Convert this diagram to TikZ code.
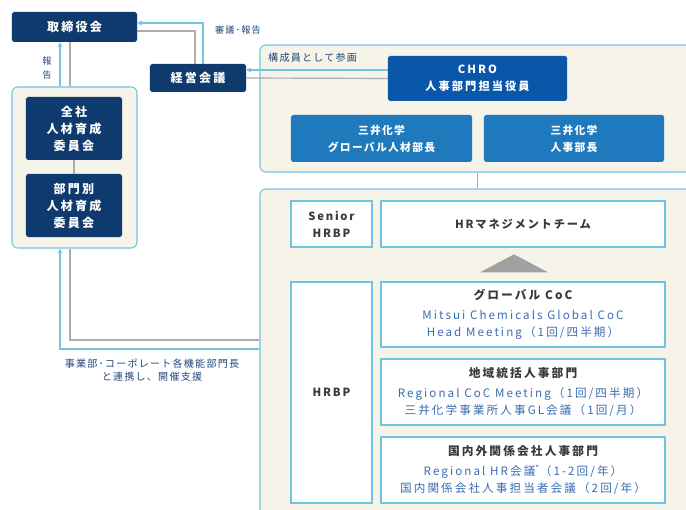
\documentclass[tikz,border=0pt]{standalone}
\usepackage{fontspec}
\setmainfont{Noto Sans CJK JP}[LetterSpace=12]
\usetikzlibrary{calc,positioning}
\definecolor{navy}{RGB}{14,58,109}
\definecolor{chroblue}{RGB}{10,86,168}
\definecolor{midblue}{RGB}{30,122,188}
\definecolor{lineblue}{RGB}{112,196,226}
\definecolor{cream}{RGB}{246,243,232}
\definecolor{linegray}{RGB}{172,172,172}
\definecolor{trigray}{RGB}{160,160,160}
\definecolor{textblue}{RGB}{58,108,178}
\definecolor{darktext}{RGB}{58,58,58}
\definecolor{labeltext}{RGB}{32,72,124}
\tikzstyle{panel} = [rectangle, rounded corners=5pt, draw=lineblue, line width=0.9pt,
fill=cream, inner sep=0pt]
\tikzstyle{navybox} = [rectangle, rounded corners=1.5pt, fill=navy, text=white,
align=center, inner sep=0pt, font=\bfseries\fontsize{10.3}{14.5}\selectfont\addfontfeatures{LetterSpace=18}]
\tikzstyle{bluebox} = [navybox, fill=midblue, font=\bfseries\fontsize{9.2}{14.5}\selectfont]
\tikzstyle{whitebox} = [rectangle, draw=lineblue, line width=1.1pt, fill=white,
align=center, inner sep=0pt, text=darktext,
font=\bfseries\fontsize{9.6}{14.5}\selectfont\addfontfeatures{LetterSpace=16}]
\tikzstyle{meetbox} = [whitebox, text=textblue, minimum width=8.52cm,
font=\fontsize{9.9}{14.5}\selectfont\addfontfeatures{LetterSpace=18}]
\tikzstyle{smalltext} = [text=labeltext, align=center, inner sep=0pt,
font=\fontsize{8.6}{11.5}\selectfont]
\tikzstyle{gline} = [draw=linegray, line width=1pt]
\tikzstyle{barrow} = [draw=lineblue, line width=0.9pt, ->]
\tikzset{>=stealth}

\begin{document}
\begin{tikzpicture}[x=0.03cm, y=-0.03cm]
            \useasboundingbox (0,0) rectangle (686,510);
            \clip (0,0) rectangle (686,510);
            \node[panel, minimum width=3.75cm, minimum height=4.83cm] (leftbox) at (74.5,167.5) {};
            \node[panel, minimum width=13.2cm, minimum height=3.81cm] (topbox) at (480,108.5) {};
            \node[panel, minimum width=13.2cm, minimum height=10.23cm] (botbox) at (480,359.5) {};
            \node[navybox, minimum width=3.75cm, minimum height=0.9cm] (board) at (74.5,27) {取締役会};
            \node[navybox, minimum width=2.88cm, minimum height=0.84cm] (mgmt) at (198,78) {経営会議};
            \node[navybox, minimum width=2.88cm, minimum height=1.89cm] (whole) at (74,128.5) {全社\\人材育成\\委員会};
            \node[navybox, minimum width=2.88cm, minimum height=1.89cm] (dept) at (74,205.5) {部門別\\人材育成\\委員会};
            \node[smalltext, font=\fontsize{7.8}{11}\selectfont] (review) at (238,30) {審議･報告};
            \node[smalltext, font=\fontsize{7.8}{12}\selectfont] (report) at (47,68) {報\\告};
            \node[smalltext, anchor=west] (member) at (268,58) {構成員として参画};
            \node[smalltext] (support) at (152,370) {事業部･コーポレート各機能部門長\\と連携し、開催支援};
            \draw[gline] ($(board.east)+(0,4)$) -| ($(mgmt.north)+(-3,0)$);
            \draw[barrow] ($(mgmt.north)+(5,0)$) |- ($(board.east)+(0,-4)$);
            \draw[gline] ($(board.south)+(-4.5,0)$) -- ($(leftbox.north)+(-4.5,0)$);
            \draw[barrow] ($(leftbox.north)+(-14.5,0)$) -- ($(board.south)+(-14.5,0)$);
            \draw[gline] (whole) -- (dept);
            \draw[gline] ($(leftbox.south)+(-4.5,0)$) |- ($(botbox.west)+(0,-19.5)$);
            \draw[barrow] ($(botbox.west)+(0,-10.5)$) -| ($(leftbox.south)+(-14.5,0)$);
            \node[bluebox, fill=chroblue, minimum width=5.37cm, minimum height=1.35cm, font=\bfseries\fontsize{9.6}{14.5}\selectfont\addfontfeatures{LetterSpace=18}] (chro) at (477.5,78.5) {CHRO\\人事部門担当役員};
            \draw[gline] (mgmt.east) -- (chro.west);
            \draw[barrow] ($(chro.west)+(0,-8.5)$) -- ($(mgmt.east)+(0,-8)$);
            \node[bluebox, minimum width=5.43cm, minimum height=1.41cm] (globalhr) at (381.5,138.5) {三井化学\\グローバル人材部長};
            \node[bluebox, minimum width=5.4cm, minimum height=1.41cm] (hrhead) at (574,138.5) {三井化学\\人事部長};
            \draw[gline] (chro.south |- topbox.south) -- (chro.south |- botbox.north);
            \node[whitebox, minimum width=2.43cm, minimum height=1.38cm] (senior) at (331.5,224) {Senior\\HRBP};
            \node[whitebox, minimum width=8.52cm, minimum height=1.38cm] (hrmt) at (523,224) {HRマネジメントチーム};
            \node[whitebox, minimum width=2.43cm, minimum height=6.63cm] (hrbp) at (331.5,392.5) {HRBP};
            \node[meetbox, minimum height=1.95cm] (coc) at (523,314.5) {{\color{darktext}\bfseries\fontsize{10}{14.5}\selectfont グローバル CoC}\\[3pt]Mitsui Chemicals Global CoC\\Head Meeting（1回/四半期）};
            \node[meetbox, minimum height=1.98cm] (region) at (523,392) {{\color{darktext}\bfseries\fontsize{10}{14.5}\selectfont 地域統括人事部門}\\[3pt]Regional CoC Meeting（1回/四半期）\\三井化学事業所人事GL会議（1回/月）};
            \node[meetbox, minimum height=1.98cm] (affil) at (523,470) {{\color{darktext}\bfseries\fontsize{10}{14.5}\selectfont 国内外関係会社人事部門}\\[3pt]Regional HR会議\textsuperscript{*}（1-2回/年）\\国内関係会社人事担当者会議（2回/年）};
            \fill[trigray] ($(coc.north)+(-43,-9)$) -- ($(coc.north)+(25,-9)$) -- ($(coc.north)+(-9,-27)$) -- cycle;
        \end{tikzpicture}
\end{document}
